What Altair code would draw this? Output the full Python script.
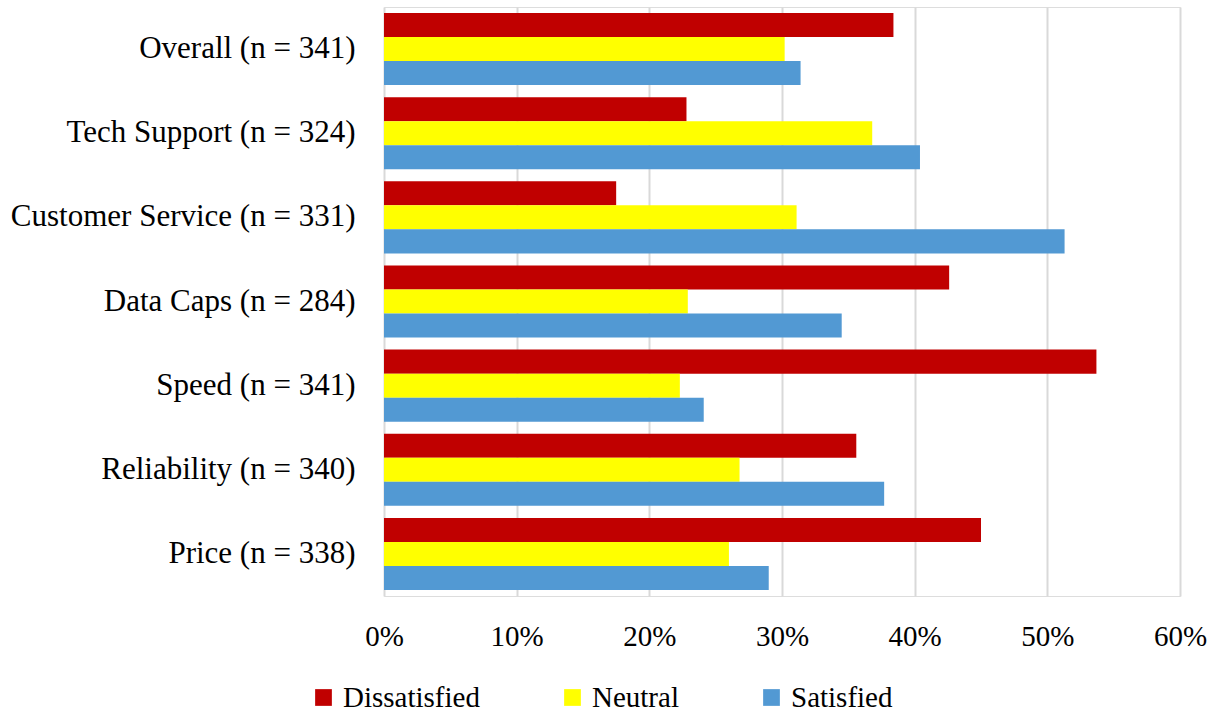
import altair as alt
import pandas as pd

categories = ["Overall (n = 341)", "Tech Support (n = 324)", "Customer Service (n = 331)",
              "Data Caps (n = 284)", "Speed (n = 341)", "Reliability (n = 340)", "Price (n = 338)"]
series = ["Dissatisfied", "Neutral", "Satisfied"]
dissatisfied = [0.384, 0.228, 0.175, 0.426, 0.537, 0.356, 0.450]
neutral = [0.302, 0.368, 0.311, 0.229, 0.223, 0.268, 0.260]
satisfied = [0.314, 0.404, 0.513, 0.345, 0.241, 0.377, 0.290]
colors = ["#C00000", "#FFFF00", "#5299D3"]

rows = []
for i, c in enumerate(categories):
    for s, vals in zip(series, [dissatisfied, neutral, satisfied]):
        rows.append({"category": c, "series": s, "value": vals[i]})
df = pd.DataFrame(rows)

FONT = "Liberation Serif"

chart = alt.Chart(df).mark_bar().encode(
    y=alt.Y("category:N", sort=categories, title=None,
            scale=alt.Scale(paddingInner=0.143, paddingOuter=0.071),
            axis=alt.Axis(ticks=False, domain=False, labelPadding=29, labelFontSize=31,
                          labelFont=FONT, labelColor="#000000", labelLimit=500)),
    yOffset=alt.YOffset("series:N", sort=series),
    x=alt.X("value:Q", title=None,
            scale=alt.Scale(domain=[0, 0.6], nice=False, zero=True),
            axis=alt.Axis(format=".0%", values=[0, 0.1, 0.2, 0.3, 0.4, 0.5, 0.6],
                          ticks=False, domain=False, grid=True, gridColor="#D9D9D9",
                          gridWidth=2, labelPadding=26, labelFontSize=29, labelFont=FONT,
                          labelColor="#000000", labelFlush=False)),
    color=alt.Color("series:N", sort=series,
                    scale=alt.Scale(domain=series, range=colors),
                    legend=alt.Legend(title=None, orient="none", direction="horizontal",
                                      legendX=-75, legendY=676, symbolType="square",
                                      symbolSize=280, symbolStrokeWidth=0,
                                      labelFont=FONT, labelFontSize=29, labelColor="#000000",
                                      columnPadding=78, labelOffset=5, gridAlign="none",
                                      labelLimit=300)),
).properties(
    width=796, height=589,
    autosize=alt.AutoSizeParams(type="none"),
    padding={"left": 384, "top": 7, "right": 39, "bottom": 116},
).configure_view(stroke=None).configure(background="#FFFFFF", font=FONT)

chart.save("out.html", embed_options={"renderer": "svg", "actions": False})
